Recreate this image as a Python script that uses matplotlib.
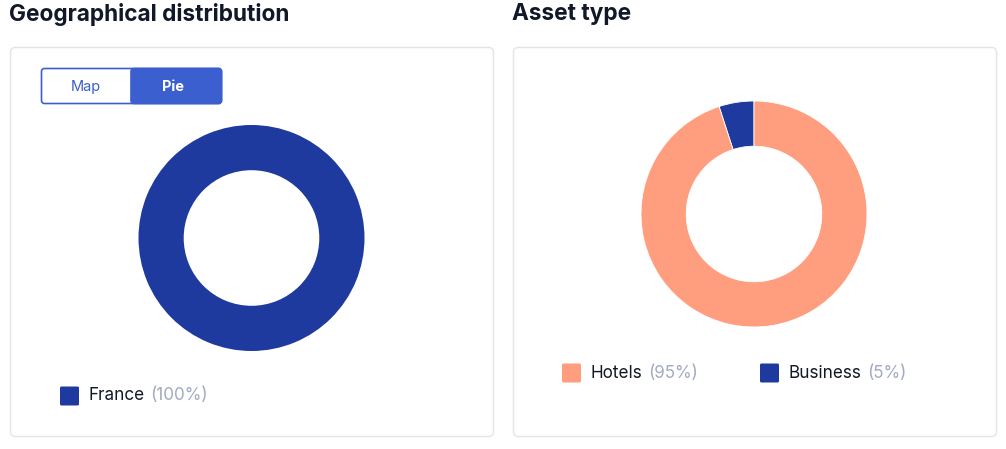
import matplotlib
matplotlib.use("Agg")
import matplotlib.pyplot as plt
from matplotlib.patches import FancyBboxPatch, Rectangle

plt.rcParams['font.family'] = ['Inter', 'DejaVu Sans']

# ---- data ----
geo_labels = ["France"]
geo_values = [100]
asset_labels = ["Hotels", "Business"]
asset_values = [95, 5]
toggle_labels = ["Map", "Pie"]
panel_titles = ["Geographical distribution", "Asset type"]

NAVY = "#1e3a9e"
SALMON = "#ff9d7f"
TOGGLE = "#3b5fcf"
GREY_TXT = "#a3abc4"
DARK = "#111827"

W, H = 1006, 449
fig = plt.figure(figsize=(W / 100, H / 100), dpi=100)
fig.patch.set_facecolor("white")

bg = fig.add_axes([0, 0, 1, 1])
bg.set_xlim(0, W)
bg.set_ylim(H, 0)
bg.axis("off")

# panel boxes
for x0 in (10.5, 513.5):
    bg.add_patch(FancyBboxPatch((x0, 47.5), 483, 389, boxstyle="round,pad=0,rounding_size=5",
                                fc="white", ec="#e3e4e8", lw=1))

# titles
bg.text(9, 14, panel_titles[0], fontsize=16.3, fontweight="bold", color=DARK, va="center", ha="left")
bg.text(512, 14, panel_titles[1], fontsize=16.3, fontweight="bold", color=DARK, va="center", ha="left")

# toggle
bg.add_patch(FancyBboxPatch((41.5, 68.5), 180, 35, boxstyle="round,pad=0,rounding_size=3",
                            fc="white", ec=TOGGLE, lw=1.2))
bg.add_patch(FancyBboxPatch((131, 68.5), 90.5, 35, boxstyle="round,pad=0,rounding_size=3",
                            fc=TOGGLE, ec=TOGGLE, lw=1.2))
bg.add_patch(Rectangle((131, 68.5), 6, 35, fc=TOGGLE, ec="none"))
bg.text(86, 87, toggle_labels[0], fontsize=10.5, color=TOGGLE, ha="center", va="center")
bg.text(173, 87, toggle_labels[1], fontsize=10.5, color="white", fontweight="bold", ha="center", va="center")


def pie_axes(cx, cy, r):
    ax = fig.add_axes([(cx - r) / W, (H - cy - r) / H, 2 * r / W, 2 * r / H])
    ax.set_xlim(-1, 1)
    ax.set_ylim(-1, 1)
    ax.axis("off")
    return ax


ax1 = pie_axes(251.5, 238, 113)
ax1.pie(geo_values, colors=[NAVY], radius=1, startangle=90,
        wedgeprops=dict(width=0.4, edgecolor="none"))
ax1.set_xlim(-1, 1); ax1.set_ylim(-1, 1)

ax2 = pie_axes(754, 214, 113)
ax2.pie(asset_values[::-1], colors=[NAVY, SALMON], radius=1, startangle=90, counterclock=True,
        wedgeprops=dict(width=0.4, edgecolor="white", linewidth=0.6))
ax2.set_xlim(-1, 1); ax2.set_ylim(-1, 1)


def legend_item(x, y, color, label, value):
    bg.add_patch(FancyBboxPatch((x, y - 9.5), 19, 19, boxstyle="round,pad=0,rounding_size=1.5",
                                fc=color, ec="none"))
    t = bg.text(x + 29, y, label, fontsize=12.3, color=DARK, ha="left", va="center")
    fig.canvas.draw()
    bb = t.get_window_extent()
    inv = bg.transData.inverted()
    xe = inv.transform((bb.x1, bb.y0))[0]
    bg.text(xe + 5, y, f"({value}%)", fontsize=12.3, color=GREY_TXT, ha="left", va="center")


legend_item(60, 396, NAVY, geo_labels[0], geo_values[0])
legend_item(562, 373, SALMON, asset_labels[0], asset_values[0])
legend_item(760, 373, NAVY, asset_labels[1], asset_values[1])

fig.savefig("out.png", dpi=100, facecolor="white")
